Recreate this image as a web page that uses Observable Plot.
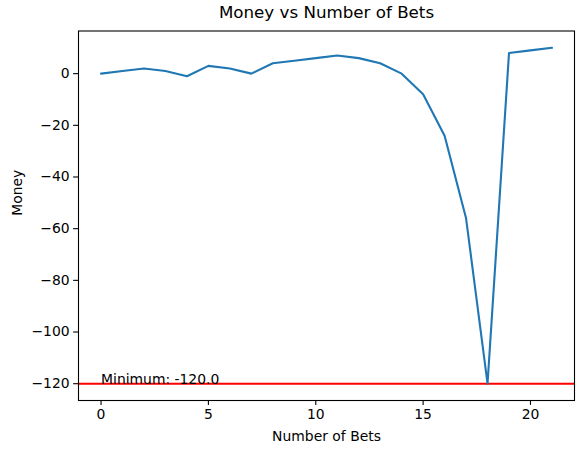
<!DOCTYPE html>
<html>
<head>
<meta charset="utf-8">
<script src="https://cdn.jsdelivr.net/npm/d3@7"></script>
<script src="https://cdn.jsdelivr.net/npm/@observablehq/plot@0.6"></script>
<style>
  html, body { margin: 0; padding: 0; background: white; }
</style>
</head>
<body>
<div id="chart"></div>
<script>
const bets = [0,1,2,3,4,5,6,7,8,9,10,11,12,13,14,15,16,17,18,19,20,21];
const money = [0,1,2,1,-1,3,2,0,4,5,6,7,6,4,0,-8,-24,-56,-120,8,9,10];
const minimum = -120;
const xTicks = [0,5,10,15,20];
const yTicks = [0,-20,-40,-60,-80,-100,-120];
const title = "Money vs Number of Bets";
const xLabel = "Number of Bets";
const yLabel = "Money";

const data = bets.map((b, i) => ({bet: b, money: money[i]}));
const xmin = d3.min(bets), xmax = d3.max(bets);
const ymin = d3.min(money), ymax = d3.max(money);
const xpad = (xmax - xmin) * 0.05, ypad = (ymax - ymin) * 0.05;

const font = "'DejaVu Sans', sans-serif";
const chart = Plot.plot({
  width: 583,
  height: 453,
  marginLeft: 78,
  marginRight: 9,
  marginTop: 30.5,
  marginBottom: 53,
  style: {fontFamily: font, fontSize: "13.9px", color: "black", background: "white", overflow: "visible"},
  x: {domain: [xmin - xpad, xmax + xpad]},
  y: {domain: [ymin - ypad, ymax + ypad]},
  marks: [
    Plot.ruleY([minimum], {stroke: "red", strokeWidth: 2.1}),
    Plot.line(data, {x: "bet", y: "money", stroke: "#1f77b4", strokeWidth: 2.1}),
    Plot.text([`Minimum: ${minimum.toFixed(1)}`], {x: 0, y: minimum, text: d => d, textAnchor: "start", lineAnchor: "bottom", fill: "black", fontSize: 13.9}),
    Plot.frame({stroke: "black", strokeWidth: 1.1}),
    Plot.axisX(xTicks, {tickSize: 4.9, tickPadding: 4, label: null, stroke: "black", strokeWidth: 1.1, fill: "black"}),
    Plot.axisY(yTicks, {tickSize: 4.9, tickPadding: 4, label: null, stroke: "black", strokeWidth: 1.1, fill: "black"}),
    Plot.text([title], {frameAnchor: "top", dy: -18.5, lineAnchor: "middle", fontSize: 16.7, fill: "black"}),
    Plot.text([xLabel], {frameAnchor: "bottom", dy: 36, lineAnchor: "middle", fontSize: 13.9, fill: "black"}),
    Plot.text([yLabel], {frameAnchor: "left", dx: -61, rotate: -90, lineAnchor: "middle", fontSize: 13.9, fill: "black"})
  ]
});
document.getElementById("chart").appendChild(chart);
</script>
</body>
</html>
